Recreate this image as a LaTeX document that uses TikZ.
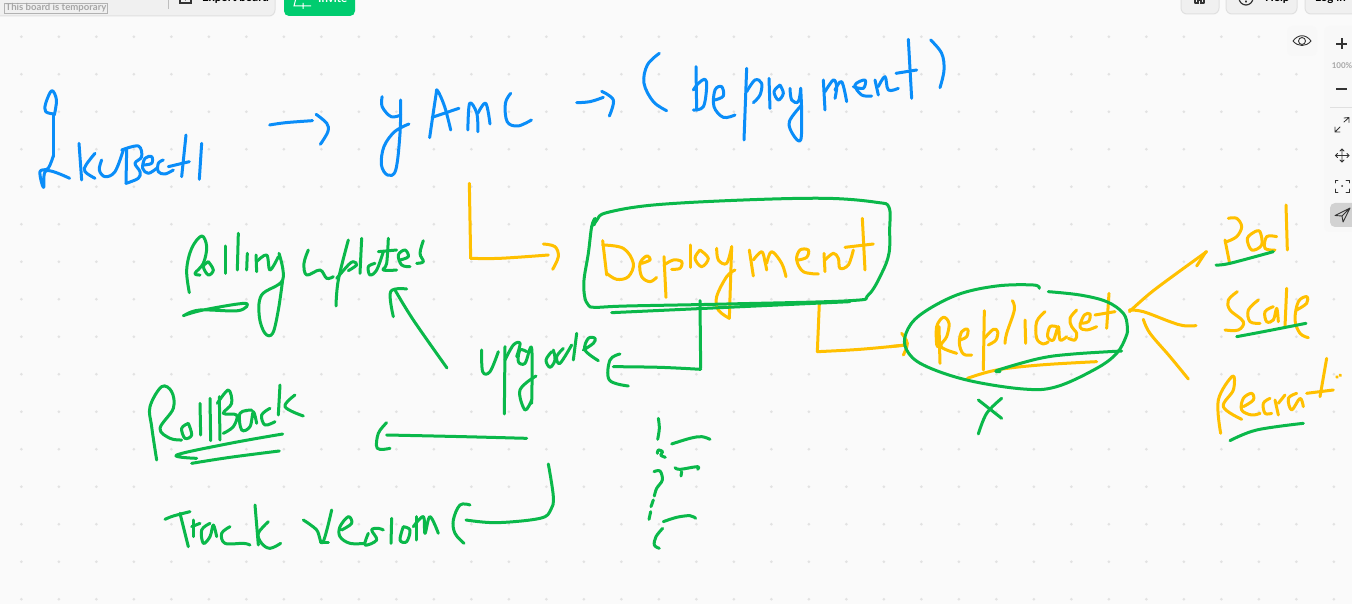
\documentclass[tikz,border=0pt]{standalone}
\usepackage{fontspec}
\setmainfont{Lato}
\definecolor{penblue}{HTML}{0A8DF8}
\definecolor{pengreen}{HTML}{0AB84A}
\definecolor{penyellow}{HTML}{FFC000}
\definecolor{boardbg}{HTML}{FAFAFA}
\definecolor{griddot}{HTML}{E2E2E2}
\definecolor{panel}{HTML}{F0F0F0}
\definecolor{panelline}{HTML}{E0E0E0}
\definecolor{invitegreen}{HTML}{00CC6F}
\definecolor{icon}{HTML}{333333}
\tikzset{
  pen/.style={line width=3pt,line cap=round,line join=round},
  uipanel/.style={fill=panel,draw=panelline,line width=1pt,rounded corners=6pt},
  iconline/.style={draw=icon,line width=1pt,line cap=round},
}
\newcommand\penB[1]{\draw[pen,penblue] plot[smooth,tension=.6] coordinates {#1};}
\newcommand\penG[1]{\draw[pen,pengreen] plot[smooth,tension=.6] coordinates {#1};}
\newcommand\penY[1]{\draw[pen,penyellow] plot[smooth,tension=.6] coordinates {#1};}
\begin{document}
\begin{tikzpicture}[x=1pt,y=-1pt]
\useasboundingbox (0,0) rectangle (1352,604);
\clip (0,0) rectangle (1352,604);
\fill[boardbg] (0,0) rectangle (1352,604);
% grid
\foreach \i in {0,...,35}{\foreach \j in {0,...,15}{
  \fill[griddot] ({21.4+37.5*\i},{36.7+37.5*\j}) circle (1.5pt);}}
% top left UI
\draw[uipanel] (-10,-10) rectangle (275,16);
\node[draw=gray!60,line width=.9pt,inner sep=0pt,minimum width=103.5pt,minimum height=10pt,text=gray!70,font=\bfseries\fontsize{9.6}{10}\selectfont] (tmpbadge) at (56,8) {This board is temporary};
\draw[panelline!85!black,line width=1pt] (168,-2) -- (168,9);
\draw[iconline,line width=1.3pt] (180,-1) -- (180,3) -- (191,3) -- (191,-1);
\draw[iconline,line width=1.3pt] (185.5,-3) -- (185.5,0);
\node[anchor=base west,inner sep=0pt,font=\bfseries\fontsize{11.5}{12}\selectfont] (exportlbl) at (202,2) {Export board};
\fill[invitegreen,rounded corners=5pt] (284,-10) rectangle (355,16);
\node[anchor=base west,inner sep=0pt,text=white,font=\bfseries\fontsize{11.5}{12}\selectfont] (invitelbl) at (318,3) {Invite};
\draw[white,line width=1pt] (296,-2) -- (294,6) -- (311,6) (303,3) -- (303,9) (300,6)--(306,6);
% top right UI
\draw[uipanel] (1181,-10) rectangle (1219,14);
\draw[uipanel] (1226,-10) rectangle (1297,14);
\draw[uipanel] (1305,-10) rectangle (1362,14);
\draw[iconline,line width=1.1pt] (1195,3) -- (1195,-3) (1204,3) -- (1204,-3) (1195,3) -- (1198,3) -- (1198,0) -- (1201,0) -- (1201,3) -- (1204,3);
\draw[iconline,line width=1.2pt] (1246,-2) circle (7pt);
\draw[iconline,line width=1.2pt] (1246,2) -- (1246,1);
\node[anchor=base west,inner sep=0pt,font=\bfseries\fontsize{11.5}{12}\selectfont] (helplbl) at (1265,2) {Help};
\node[anchor=base west,inner sep=0pt,font=\bfseries\fontsize{11.5}{12}\selectfont] (loginlbl) at (1315,2) {Log in};
% right toolbar
\fill[boardbg!99!black,rounded corners=5pt] (1287,26) rectangle (1317,56);
\fill[boardbg!99!black,rounded corners=5pt] (1324,26) rectangle (1362,232);
\draw[iconline,line width=.9pt] (1293,41) .. controls (1298,34) and (1306,34) .. (1311,41) .. controls (1306,47) and (1298,47) .. (1293,41);
\draw[iconline,line width=.9pt] (1302,41) circle (3.5pt);
\draw[icon,line width=1.5pt] (1336,44) -- (1347,44) (1342,38.5) -- (1342,49.5);
\node[text=gray!70,inner sep=0pt,font=\bfseries\fontsize{8}{8}\selectfont] (zoomlbl) at (1342,66) {100\%};
\draw[icon,line width=1.5pt] (1336,89) -- (1347,89);
\draw[panelline,line width=1pt] (1330,107.5) -- (1352,107.5);
\draw[iconline,line width=.8pt] (1335,132) -- (1340,127) (1344,122) -- (1349,117.5) (1344,118) -- (1349,117.5) -- (1349,122.5) (1335,127) -- (1335,132) -- (1340,132);
\draw[iconline,line width=.8pt] (1335.5,155.5) -- (1349,155.5) (1342,149) -- (1342,162) (1340,151) -- (1342,149) -- (1344,151) (1340,160) -- (1342,162) -- (1344,160) (1337.5,153.5) -- (1335.5,155.5) -- (1337.5,157.5) (1347,153.5) -- (1349,155.5) -- (1347,157.5);
\draw[iconline,line width=.8pt] (1335.5,183) -- (1335.5,180.5) -- (1338,180.5) (1346,180.5) -- (1349,180.5) -- (1349,183) (1335.5,189) -- (1335.5,192) -- (1338,192) (1346,192) -- (1349,192) -- (1349,189);
\fill[icon] (1342,186) circle (1pt);
\fill[gray!35,rounded corners=5pt] (1330,203) rectangle (1362,227);
\draw[iconline,line width=.9pt,line join=round] (1350,208) -- (1335,215.5) -- (1342,216) -- (1343,222) -- cycle (1350,208) -- (1342,216);

% ---- top left: kubectl stem and arrow, yaml ----
\begin{scope}[shift={(0,0)},x=0.35714pt,y=-0.33333pt]
\penB{(150,470)(150,345)}
\penB{(152,342)(128,335)(128,310)(145,272)(158,300)(152,345)}
\penB{(150,465)(135,505)(112,515)(122,562)(130,512)(195,535)}
\penB{(755,375)(800,368)(875,362)}
\penB{(885,343)(915,370)(918,395)(897,433)}
\penB{(1070,290)(1070,320)(1095,350)(1122,345)}
\penB{(1122,300)(1120,400)(1108,510)(1085,525)(1068,495)(1075,440)(1105,395)(1145,372)}
\penB{(1203,413)(1220,290)(1225,272)(1245,320)(1262,390)}
\penB{(1210,352)(1285,325)}
\penB{(1310,390)(1315,310)(1335,340)(1338,395)}
\penB{(1338,340)(1360,310)(1372,372)}
\penB{(1430,280)(1415,310)(1420,365)(1450,378)(1488,360)}
\end{scope}
% ---- kubectl ----
\begin{scope}[shift={(30,130)},x=0.33333pt,y=-0.33333pt]
\penB{(147,40)(155,150)}
\penB{(195,70)(168,105)(165,125)(195,145)}
\penB{(215,90)(208,120)(225,140)(255,125)(280,60)}
\penB{(290,58)(288,160)}
\penB{(275,60)(325,48)(335,80)(315,100)(330,125)(325,145)(288,160)}
\penB{(340,105)(365,100)(365,80)(345,85)(338,115)(355,130)(380,115)}
\penB{(400,90)(385,100)(385,125)(405,132)(430,120)}
\penB{(468,15)(455,140)}
\penB{(415,110)(478,95)}
\penB{(515,40)(508,148)}
\end{scope}

% ---- (deployment) ----
\begin{scope}[shift={(560,20)},x=0.33333pt,y=-0.33333pt]
\penB{(50,248)(90,245)(130,232)}
\penB{(125,214)(160,240)(148,288)}
\penB{(298,100)(262,135)(252,190)(280,245)(320,272)}
\penB{(408,140)(410,270)}
\penB{(400,270)(430,260)(440,200)(435,178)(415,190)(400,210)}
\penB{(465,240)(490,228)(485,200)(465,210)(462,260)(490,292)(525,285)}
\penB{(560,145)(552,360)}
\penB{(560,215)(585,180)(605,190)(600,225)(580,248)}
\penB{(627,175)(630,265)}
\penB{(660,195)(642,215)(655,240)(670,220)(660,195)}
\penB{(690,205)(695,240)(715,245)(722,205)}
\penB{(722,205)(725,280)(722,360)(700,345)(688,305)(725,255)}
\penB{(790,180)(795,270)}
\penB{(795,215)(820,180)(830,200)(825,235)}
\penB{(825,210)(845,185)(860,245)}
\penB{(880,200)(910,205)(915,180)(885,195)(905,225)(935,228)}
\penB{(945,180)(955,225)}
\penB{(955,200)(975,170)(985,210)(1015,205)}
\penB{(1045,58)(1055,235)}
\penB{(1008,160)(1070,150)}
\penB{(1112,60)(1145,100)(1152,150)(1140,203)}
\end{scope}

% ---- Deployment box region ----
\begin{scope}[shift={(460,170)},x=0.33333pt,y=-0.33333pt]
\penY{(28,40)(32,265)}
\penY{(32,265)(120,265)(265,255)}
\penY{(250,222)(285,230)(295,260)(278,298)}
\penY{(428,212)(440,315)}
\penY{(428,225)(490,235)(520,280)(505,320)(470,328)(440,310)}
\penY{(545,280)(570,270)(560,258)(540,280)(545,320)(570,335)(590,322)}
\penY{(612,260)(618,382)}
\penY{(612,285)(640,270)(665,275)(660,295)(635,298)}
\penY{(690,225)(690,292)}
\penY{(720,240)(705,265)(725,290)(745,265)(720,240)}
\penY{(770,235)(775,270)(800,280)(815,230)}
\penY{(815,230)(808,445)}
\penY{(808,445)(775,420)(770,380)(800,320)(825,300)}
\penY{(868,240)(880,318)}
\penY{(880,270)(905,245)(915,275)(920,300)}
\penY{(920,280)(935,245)(965,280)(978,320)}
\penY{(1015,270)(1040,262)(1045,240)(1020,240)(1010,270)(1030,305)(1075,312)}
\penY{(1092,250)(1095,305)}
\penY{(1095,270)(1120,250)(1135,265)(1140,295)(1165,285)(1180,240)}
\penY{(1207,145)(1215,300)}
\penY{(1155,232)(1240,222)}
\penY{(1078,400)(1072,545)}
\penY{(1072,545)(1200,538)(1340,525)}
\penG{(402,165)(412,148)(440,128)(580,105)(850,90)(1100,85)(1250,97)(1287,112)(1289,180)(1287,250)(1265,310)(1225,375)(1170,392)(800,402)(500,408)(405,412)(385,405)(374,380)(372,330)(385,250)(395,170)(405,145)}
\penG{(455,428)(1170,395)}
\penG{(720,392)(722,595)}
\penG{(722,598)(600,592)(460,590)}
\penG{(480,552)(450,570)(448,630)(505,648)}
% upgrade
\penG{(65,540)(68,605)(90,605)(115,545)}
\penG{(135,530)(133,732)}
\penG{(135,570)(160,525)(180,520)(170,560)}
\penG{(200,545)(180,540)(175,575)(195,580)(215,535)(215,700)}
\penG{(228,618)(180,660)(195,720)(215,690)}
\penG{(275,545)(258,570)(270,592)(285,570)(280,540)}
\penG{(310,535)(290,560)(300,580)(335,525)}
\penG{(350,490)(340,570)}
\penG{(370,540)(400,520)(405,505)(385,505)(375,540)(415,572)}
\end{scope}

% ---- Replicaset lettering ----
\begin{scope}[shift={(925,290)},x=0.33333pt,y=-0.33333pt]
\penY{(42,110)(45,220)}
\penY{(38,105)(37,170)}
\penY{(35,165)(35,110)(55,82)(72,100)(65,140)(48,170)(95,190)}
\penY{(105,150)(125,140)(128,118)(110,125)(103,160)(115,192)(140,195)}
\penY{(178,62)(175,240)}
\penY{(178,145)(205,118)(218,125)(213,150)(190,165)}
\penY{(262,32)(268,60)(245,130)(240,160)}
\penY{(300,90)(302,160)}
\penY{(360,65)(335,95)(335,145)(355,162)(370,155)}
\penY{(395,110)(375,110)(368,140)(385,150)(400,110)(405,150)(425,140)}
\penY{(455,60)(435,85)(440,110)(455,130)(450,150)(430,145)}
\penY{(465,100)(490,95)(495,72)(478,75)(465,110)(485,120)(515,110)}
\penY{(552,10)(545,115)}
\penY{(510,75)(570,65)}
\end{scope}

% ---- right side ----
\begin{scope}[shift={(890,190)},x=0.33333pt,y=-0.33333pt]
\penY{(0,470)(45,465)}
\penY{(35,430)(52,460)(40,495)}
\penY{(232,565)(320,540)(450,525)(620,515)}
\penY{(950,185)(860,250)(780,310)(718,365)}
\penY{(948,185)(920,228)}
\penY{(718,360)(760,365)(840,395)(880,407)(918,407)}
\penY{(760,388)(780,430)(840,500)(895,567)}
\penY{(1015,85)(1040,85)(1055,110)(1040,140)(1010,155)}
\penY{(1005,150)(1018,215)}
\penY{(1095,125)(1072,145)(1085,180)(1115,165)(1110,125)(1095,125)}
\penY{(1160,140)(1130,140)(1125,175)(1155,180)}
\penY{(1188,45)(1192,180)}
\penY{(1042,305)(1015,330)(1020,360)(1060,395)(1045,420)(1005,420)}
\penY{(1105,330)(1075,360)(1080,395)(1110,400)}
\penY{(1150,350)(1125,365)(1130,395)(1150,390)(1160,355)(1165,395)}
\penY{(1190,295)(1185,410)}
\penY{(1220,360)(1250,340)(1250,320)(1225,335)(1215,390)(1230,430)(1255,443)}
\penY{(992,730)(985,630)(1028,558)(1030,600)(1000,650)(1055,688)}
\penY{(1060,650)(1090,630)(1085,610)(1060,625)(1055,660)(1085,675)(1110,670)}
\penY{(1140,625)(1120,640)(1125,670)(1145,670)}
\penY{(1155,630)(1165,675)}
\penY{(1165,640)(1185,615)}
\penY{(1220,610)(1195,625)(1205,660)(1230,625)(1240,650)}
\penY{(1310,505)(1290,620)}
\penY{(1250,610)(1330,600)}
\penY{(1340,560)(1342,562)}
\penY{(1350,555)(1352,557)}
% green
\penG{(448,295)(430,285)(320,288)(200,315)(90,375)(48,430)(50,480)(100,525)(230,570)(400,597)(500,590)(620,535)(680,490)(708,440)(712,410)(700,370)(650,335)(570,315)(475,305)}
\penG{(330,545)(325,540)(450,505)(550,492)(695,483)}
\penG{(978,225)(1020,220)(1150,185)}
\penG{(1040,440)(1120,425)(1248,400)}
\penG{(1020,752)(1100,720)(1240,700)}
\penG{(265,630)(335,685)}
\penG{(335,625)(290,670)(265,732)}
\end{scope}

% ---- Rolling updates ----
\begin{scope}[shift={(130,220)},x=0.33333pt,y=-0.33333pt]
\penG{(178,218)(170,150)(185,85)(215,48)(230,80)(220,130)(195,160)(210,165)}
\penG{(235,125)(220,140)(235,165)(250,150)(235,125)}
\penG{(287,78)(287,160)}
\penG{(325,40)(322,150)}
\penG{(352,100)(350,150)}
\penG{(378,105)(380,155)}
\penG{(380,125)(410,105)(420,150)(445,110)}
\penG{(447,100)(458,180)(395,225)(388,290)(405,340)(428,340)(445,270)(458,180)}
\penG{(160,287)(220,270)(345,250)(325,272)(210,270)(165,285)}
\penG{(535,90)(522,130)(530,165)(570,150)(590,175)(610,170)}
\penG{(655,60)(625,180)(618,258)}
\penG{(620,175)(655,135)(670,125)(680,135)(655,152)}
\penG{(695,55)(690,160)}
\penG{(735,130)(715,140)(720,165)(740,150)(760,95)}
\penG{(775,55)(770,130)(760,150)(800,150)}
\penG{(745,95)(800,90)}
\penG{(810,120)(835,110)(825,90)(805,105)(815,135)(840,140)}
\penG{(880,62)(870,100)(880,125)(860,130)}
\penG{(951,444)(850,300)(795,210)}
\penG{(790,290)(782,215)(830,207)}
\end{scope}

% ---- RollBack, Track version ----
\begin{scope}[shift={(130,370)},x=0.33333pt,y=-0.33333pt]
\penG{(80,270)(65,170)(60,110)(95,50)(125,65)(130,115)(90,175)(120,205)(155,210)}
\penG{(175,160)(155,175)(165,205)(185,195)(175,160)}
\penG{(210,100)(212,195)}
\penG{(240,85)(242,212)}
\penG{(268,80)(270,210)}
\penG{(262,100)(295,60)(305,100)(280,130)(320,135)(310,170)(280,190)}
\penG{(365,120)(330,130)(335,180)(360,170)(370,125)(380,160)}
\penG{(420,115)(395,135)(405,165)(435,155)}
\penG{(450,45)(445,135)}
\penG{(495,75)(465,110)(520,138)}
\penG{(458,192)(300,220)(140,255)(200,265)}
\penG{(185,280)(300,262)(448,243)}
\penG{(1190,205)(1000,200)(770,195)}
\penG{(770,158)(745,190)(742,235)(780,235)}
\penG{(1255,282)(1270,380)(1262,420)(1230,445)(1100,458)(1008,450)}
\penG{(1020,405)(990,405)(970,450)(975,490)(1002,520)}
\penG{(105,448)(130,438)(180,425)}
\penG{(150,430)(175,530)}
\penG{(190,450)(190,500)}
\penG{(185,470)(210,460)}
\penG{(240,460)(215,480)(220,520)(240,500)(250,465)(260,500)}
\penG{(300,470)(275,490)(285,520)(340,520)(360,525)}
\penG{(375,405)(385,525)}
\penG{(415,455)(385,490)(395,520)(420,535)(452,520)}
\penG{(520,450)(560,480)(578,518)(605,420)}
\penG{(572,518)(595,518)}
\penG{(635,480)(665,460)(655,440)(630,470)(630,500)(660,520)(705,520)}
\penG{(715,490)(705,525)(740,510)(725,480)(745,475)(760,480)}
\penG{(785,445)(783,520)}
\penG{(820,470)(810,510)(830,515)(840,480)(820,470)}
\penG{(860,440)(860,510)}
\penG{(850,470)(880,440)(885,490)(900,440)(925,490)}
\end{scope}

% ---- scribbles ----
\begin{scope}[shift={(620,400)},x=0.33333pt,y=-0.33333pt]
\penG{(115,55)(118,85)(113,118)}
\penG{(112,160)(115,150)(128,155)(122,165)(136,172)}
\penG{(155,132)(210,115)(245,110)(270,118)}
\penG{(102,215)(120,213)(127,240)(110,265)(103,288)}
\penG{(100,300)(93,320)}
\penG{(92,335)(87,358)}
\penG{(165,203)(180,208)(232,200)(233,208)}
\penG{(185,215)(183,228)}
\penG{(130,365)(170,352)(210,347)(227,355)}
\penG{(128,385)(108,410)(103,435)(118,445)}
\end{scope}
\end{tikzpicture}
\end{document}
